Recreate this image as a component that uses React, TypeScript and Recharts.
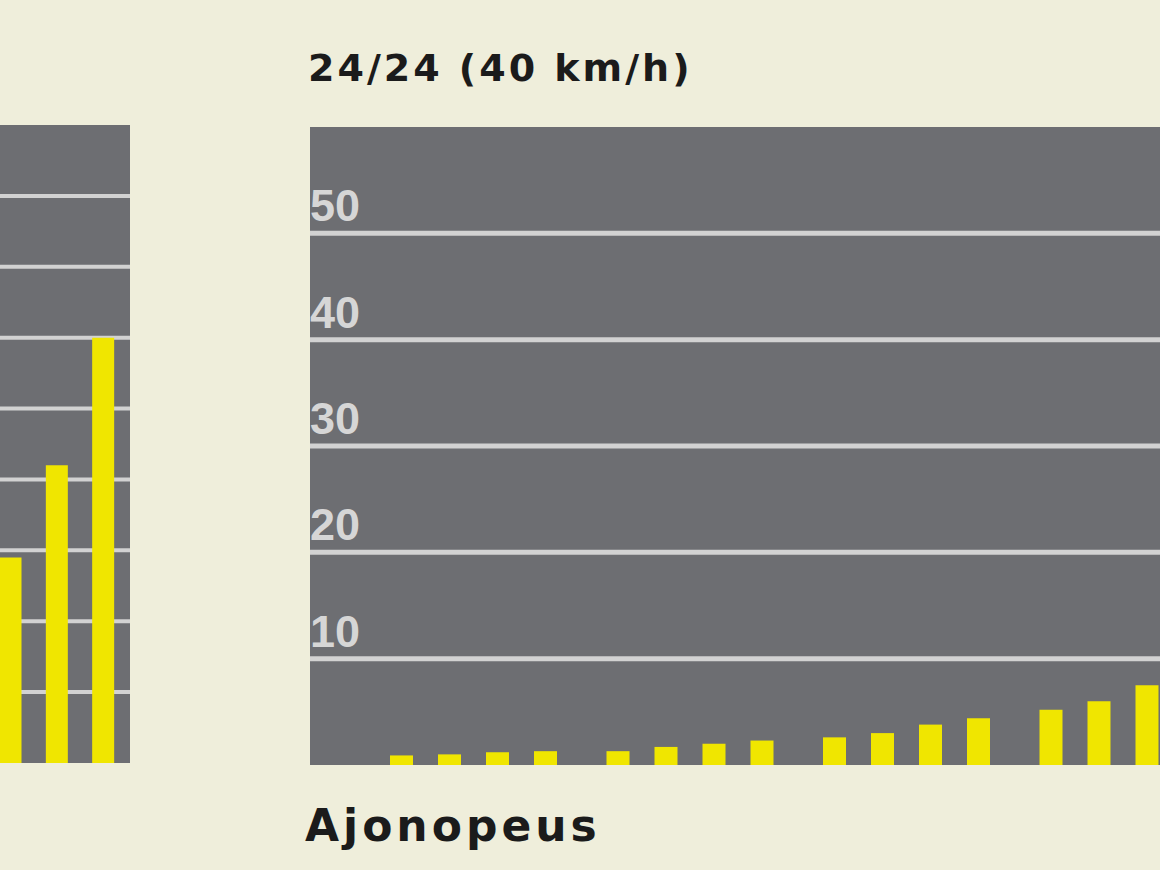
import React from "react";
import { Bar, BarChart, CartesianGrid, XAxis, YAxis } from "recharts";

// 24/24 (40 km/h) – pylväät ryhmittäin, vasen paneeli rajautuu kuvan reunaan
const groups = ["1", "2", "3", "4"];
const serA = [0.9, 1.3, 2.6, 5.2];
const serB = [1.0, 1.7, 3.0, 6.0];
const serC = [1.2, 2.0, 3.8, 7.5];
const serD = [1.3, 2.3, 4.4, null]; // viimeinen jää kuvan ulkopuolelle
const rightTicks = [10, 20, 30, 40, 50];

// vasen (rajattu) paneeli
const leftCats = ["a", "b", "c"];
const leftVals = [29, 42, 60];
const leftTicks = [10, 20, 30, 40, 50, 60, 70, 80];

const PLOT = "#6d6e72";
const GRID = "#d2d2d2";
const BAR = "#f0e600";
const INK = "#1b1b1b";

const rightData = groups.map((g, i) => ({
  name: g,
  a: serA[i],
  b: serB[i],
  c: serC[i],
  d: serD[i],
}));
const leftData = leftCats.map((c, i) => ({ name: c, v: leftVals[i] }));

function InsideTick(props: any) {
  const { y, payload } = props;
  return (
    <text
      x={0}
      y={y - 12}
      fill="#d6d6d6"
      fontSize={45}
      fontWeight="bold"
      fontFamily="'Liberation Sans', Arial, sans-serif"
      textAnchor="start"
    >
      {payload.value}
    </text>
  );
}

export default function App() {
  return (
    <div
      style={{
        position: "fixed",
        left: 0,
        top: 0,
        width: 1160,
        height: 870,
        overflow: "hidden",
        background: "#efeedb",
      }}
    >
      <div style={{ position: "absolute", left: -20, top: 125, background: PLOT, width: 150, height: 638 }}>
        <BarChart
          width={150}
          height={638}
          data={leftData}
          margin={{ top: 0, right: 0, bottom: 0, left: 0 }}
        >
          <CartesianGrid vertical={false} horizontalValues={leftTicks} stroke={GRID} strokeWidth={4} />
          <XAxis dataKey="name" hide padding={{ left: 7.5, right: 3.5 }} />
          <YAxis hide domain={[0, 90]} ticks={leftTicks} />
          <Bar dataKey="v" fill={BAR} barSize={22} isAnimationActive={false} />
        </BarChart>
      </div>

      <div
        style={{
          position: "absolute",
          left: 308,
          top: 46,
          fontFamily: "'DejaVu Sans', sans-serif",
          fontWeight: "bold",
          fontSize: 38,
          letterSpacing: 3,
          color: INK,
          whiteSpace: "nowrap",
        }}
      >
        24/24 (40 km/h)
      </div>

      <div style={{ position: "absolute", left: 310, top: 127, background: PLOT, width: 990, height: 638 }}>
        <BarChart
          width={990}
          height={638}
          data={rightData}
          barGap={25}
          margin={{ top: 0, right: 0, bottom: 0, left: 0 }}
        >
          <CartesianGrid vertical={false} horizontalValues={rightTicks} stroke={GRID} strokeWidth={5} />
          <XAxis dataKey="name" hide padding={{ left: 55, right: 69 }} />
          <YAxis
            mirror
            domain={[0, 60]}
            ticks={rightTicks}
            axisLine={false}
            tickLine={false}
            tick={<InsideTick />}
          />
          <Bar dataKey="a" fill={BAR} barSize={23} isAnimationActive={false} />
          <Bar dataKey="b" fill={BAR} barSize={23} isAnimationActive={false} />
          <Bar dataKey="c" fill={BAR} barSize={23} isAnimationActive={false} />
          <Bar dataKey="d" fill={BAR} barSize={23} isAnimationActive={false} />
        </BarChart>
      </div>

      <div
        style={{
          position: "absolute",
          left: 305,
          top: 800,
          fontFamily: "'DejaVu Sans', sans-serif",
          fontWeight: "bold",
          fontSize: 44,
          letterSpacing: 4,
          color: INK,
          whiteSpace: "nowrap",
        }}
      >
        Ajonopeus
      </div>
    </div>
  );
}
